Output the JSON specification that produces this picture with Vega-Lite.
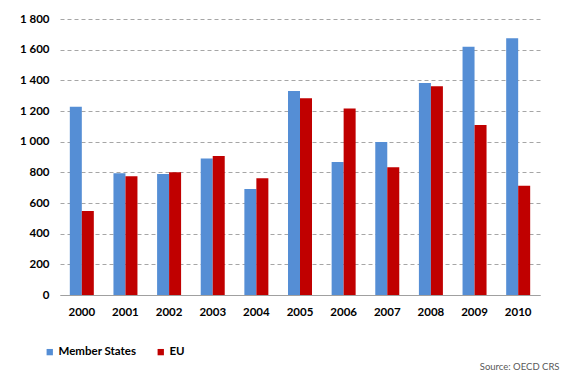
{
  "$schema": "https://vega.github.io/schema/vega-lite/v6.json",
  "width": 480,
  "height": 276,
  "autosize": {"type": "none"},
  "padding": {"left": 60, "top": 19, "right": 22, "bottom": 78},
  "background": "white",
  "data": {
    "values": [
      {"year": "2000", "series": "Member States", "value": 1228},
      {"year": "2000", "series": "EU", "value": 548},
      {"year": "2001", "series": "Member States", "value": 794},
      {"year": "2001", "series": "EU", "value": 774},
      {"year": "2002", "series": "Member States", "value": 789},
      {"year": "2002", "series": "EU", "value": 800},
      {"year": "2003", "series": "Member States", "value": 891},
      {"year": "2003", "series": "EU", "value": 906},
      {"year": "2004", "series": "Member States", "value": 691},
      {"year": "2004", "series": "EU", "value": 761},
      {"year": "2005", "series": "Member States", "value": 1330},
      {"year": "2005", "series": "EU", "value": 1283},
      {"year": "2006", "series": "Member States", "value": 867},
      {"year": "2006", "series": "EU", "value": 1217},
      {"year": "2007", "series": "Member States", "value": 998},
      {"year": "2007", "series": "EU", "value": 833},
      {"year": "2008", "series": "Member States", "value": 1383},
      {"year": "2008", "series": "EU", "value": 1361},
      {"year": "2009", "series": "Member States", "value": 1619},
      {"year": "2009", "series": "EU", "value": 1109},
      {"year": "2010", "series": "Member States", "value": 1674},
      {"year": "2010", "series": "EU", "value": 713}
    ]
  },
  "mark": {"type": "bar"},
  "encoding": {
    "x": {
      "field": "year",
      "type": "nominal",
      "title": "Source: OECD CRS",
      "scale": {"paddingInner": 0.45, "paddingOuter": 0.225},
      "axis": {
        "labelAngle": 0,
        "labelFont": "Lato",
        "labelFontWeight": "bold",
        "labelFontSize": 11.5,
        "labelColor": "#000000",
        "ticks": false,
        "domainColor": "#A0A0A0",
        "domainWidth": 1,
        "labelPadding": 11,
        "titleX": 499,
        "titleY": 71,
        "titleAlign": "right",
        "titleAnchor": null,
        "titleBaseline": "middle",
        "titleFont": "Lato",
        "titleFontSize": 9.5,
        "titleFontWeight": "normal",
        "titleColor": "#595959"
      }
    },
    "xOffset": {"field": "series", "type": "nominal", "sort": ["Member States", "EU"]},
    "y": {
      "field": "value",
      "type": "quantitative",
      "scale": {"domain": [0, 1800], "nice": false},
      "axis": {
        "title": null,
        "values": [0, 200, 400, 600, 800, 1000, 1200, 1400, 1600, 1800],
        "labelExpr": "replace(format(datum.value, ',d'), ',', ' ')",
        "labelFont": "Lato",
        "labelFontWeight": "bold",
        "labelFontSize": 11.5,
        "labelColor": "#000000",
        "ticks": false,
        "domain": false,
        "labelPadding": 11,
        "gridColor": "#A6A6A6",
        "gridDash": [4, 3],
        "gridWidth": 1
      }
    },
    "color": {
      "field": "series",
      "type": "nominal",
      "scale": {"domain": ["Member States", "EU"], "range": ["#558ED5", "#C00000"]},
      "legend": {
        "title": null,
        "orient": "none",
        "direction": "horizontal",
        "legendX": -16,
        "legendY": 327,
        "padding": 0,
        "symbolType": "square",
        "symbolSize": 40,
        "symbolStrokeWidth": 0,
        "labelFont": "Lato",
        "labelFontWeight": "bold",
        "labelFontSize": 11.5,
        "labelColor": "#000000",
        "labelOffset": 3,
        "columnPadding": 18
      }
    }
  },
  "config": {"view": {"stroke": null}}
}
